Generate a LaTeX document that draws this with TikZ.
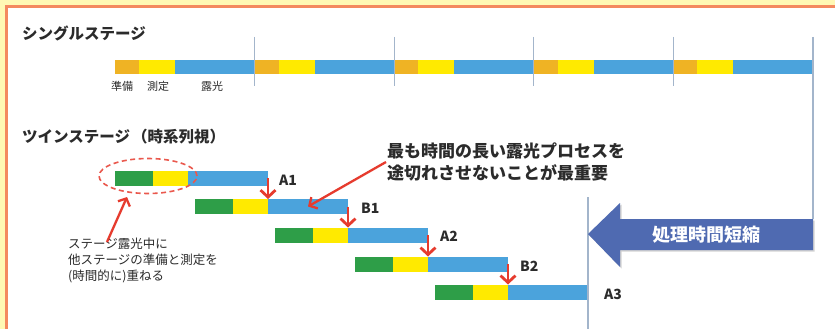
\documentclass[tikz,border=0pt]{standalone}
\usepackage{fontspec}
\setmainfont{Noto Sans CJK JP}
\usetikzlibrary{arrows.meta,shapes.geometric,shadows}
\definecolor{bgyellow}{HTML}{FFF8B4}
\definecolor{frameorange}{HTML}{F4895F}
\definecolor{cOrange}{HTML}{EFB324}
\definecolor{cYellow}{HTML}{FFEA00}
\definecolor{cBlue}{HTML}{4BA3DC}
\definecolor{cGreen}{HTML}{2E9E48}
\definecolor{gridcol}{HTML}{A3B5CB}
\definecolor{cRed}{HTML}{E63B2E}
\definecolor{bigblue}{HTML}{4F6AB1}
\definecolor{txt}{HTML}{2B2B2B}
\begin{document}
\begin{tikzpicture}[x=1pt,y=-1pt,
  seg/.style={draw=none, inner sep=0pt, outer sep=0pt, anchor=west},
  sseg/.style={seg, minimum height=14pt},
  tseg/.style={seg, minimum height=15pt},
  gridl/.style={draw=gridcol, line width=1.2pt},
  redarr/.style={draw=cRed, line width=2.8pt, -{Straight Barb[length=7pt,width=15pt]}},
  redthin/.style={draw=cRed, line width=2.3pt, -{Straight Barb[length=6pt,width=13pt]}},
  small/.style={font=\fontsize{11}{13}\selectfont, text=txt, inner sep=0pt},
  title/.style={font=\bfseries\fontsize{15.5}{18}\selectfont, text=txt, anchor=west, inner sep=0pt},
  rowlbl/.style={font=\bfseries\fontsize{14}{16}\selectfont, text=txt, anchor=west, inner sep=0pt}]
\useasboundingbox (0,0) rectangle (835,329);
% background and frame
\fill[bgyellow] (0,0) rectangle (835,329);
\fill[white] (6,7) rectangle (835,329);
\draw[frameorange, line width=3pt] (6,329) -- (6,7) -- (835,7);

% single stage
\node[title] (t1) at (22,33) {シングルステージ};
\foreach \i in {1,...,5}{
  \node[sseg, fill=cOrange, minimum width=24pt] (so\i) at ({115+(\i-1)*139.6},67) {};
  \node[sseg, fill=cYellow, minimum width=36pt] (sy\i) at (so\i.east) {};
  \node[sseg, fill=cBlue, minimum width=79.6pt] (sb\i) at (sy\i.east) {};
}
\foreach \i in {1,...,4}{
  \draw[gridl] ([yshift=30pt]sb\i.east) -- ([yshift=-19pt]sb\i.east);
}
\draw[gridl] ([yshift=30pt]sb5.east) -- ([yshift=-152pt]sb5.east);
\node[small] (l1) at (122,86) {準備};
\node[small] (l2) at (158,86) {測定};
\node[small] (l3) at (212,86) {露光};

% twin stage
\node[title] (t2) at (22,137) {ツインステージ\hspace{2pt}（時系列視）};
\foreach \n/\x/\y in {a1/115/178, b1/195/206.5, a2/275/235, b2/355/264, a3/435/292}{
  \node[tseg, fill=cGreen, minimum width=38pt] (\n g) at (\x,\y) {};
  \node[tseg, fill=cYellow, minimum width=35pt] (\n y) at (\n g.east) {};
  \node[tseg, fill=cBlue, minimum width=80pt] (\n b) at (\n y.east) {};
}
\node[rowlbl] (la1) at (279,180) {A1};
\node[rowlbl] (lb1) at (361,208) {B1};
\node[rowlbl] (la2) at (440,236) {A2};
\node[rowlbl] (lb2) at (520,266) {B2};
\node[rowlbl] (la3) at (604,294) {A3};

\draw[gridl] ([yshift=95pt]a3b.east) -- ([yshift=-37pt]a3b.east);

% red down arrows
\draw[redarr] (a1b.east) -- (b1b.north west);
\draw[redarr] (b1b.east) -- (a2b.north west);
\draw[redarr] (a2b.east) -- (b2b.north west);
\draw[redarr] (b2b.east) -- (a3b.north west);

% dashed ellipse
\node[draw=cRed!85, dashed, dash pattern=on 5pt off 3.5pt, line width=1.6pt, ellipse,
      minimum width=98pt, minimum height=35pt] (ell) at (148,176) {};

% note text
\node[anchor=north west, align=left, font=\fontsize{12.5}{16}\selectfont, text=txt, inner sep=0pt]
  (note) at (68,238) {ステージ露光中に\\他ステージの準備と測定を\\(時間的に)重ねる};
\coordinate (nt) at (107,242);
\coordinate (ep) at (127,197);
\draw[redthin] (nt) -- (ep);

% annotation
\node[anchor=north west, align=left, font=\bfseries\fontsize{17}{22}\selectfont, text=txt, inner sep=0pt]
  (ann) at (387,143) {最も時間の長い露光プロセスを\\途切れさせないことが最重要};
\coordinate (at) at (386,162);
\draw[redthin] (at) -- (b1b.center);

% big arrow
\fill[bigblue, drop shadow={shadow xshift=1.5pt, shadow yshift=-1.5pt, opacity=0.35}]
  (588,234) -- (620,203) -- (620,219) -- (813,219) -- (813,250) -- (620,250) -- (620,267) -- cycle;
\node[font=\bfseries\fontsize{18}{20}\selectfont, text=white, inner sep=0pt] (bt) at (706,235) {処理時間短縮};
\end{tikzpicture}
\end{document}
